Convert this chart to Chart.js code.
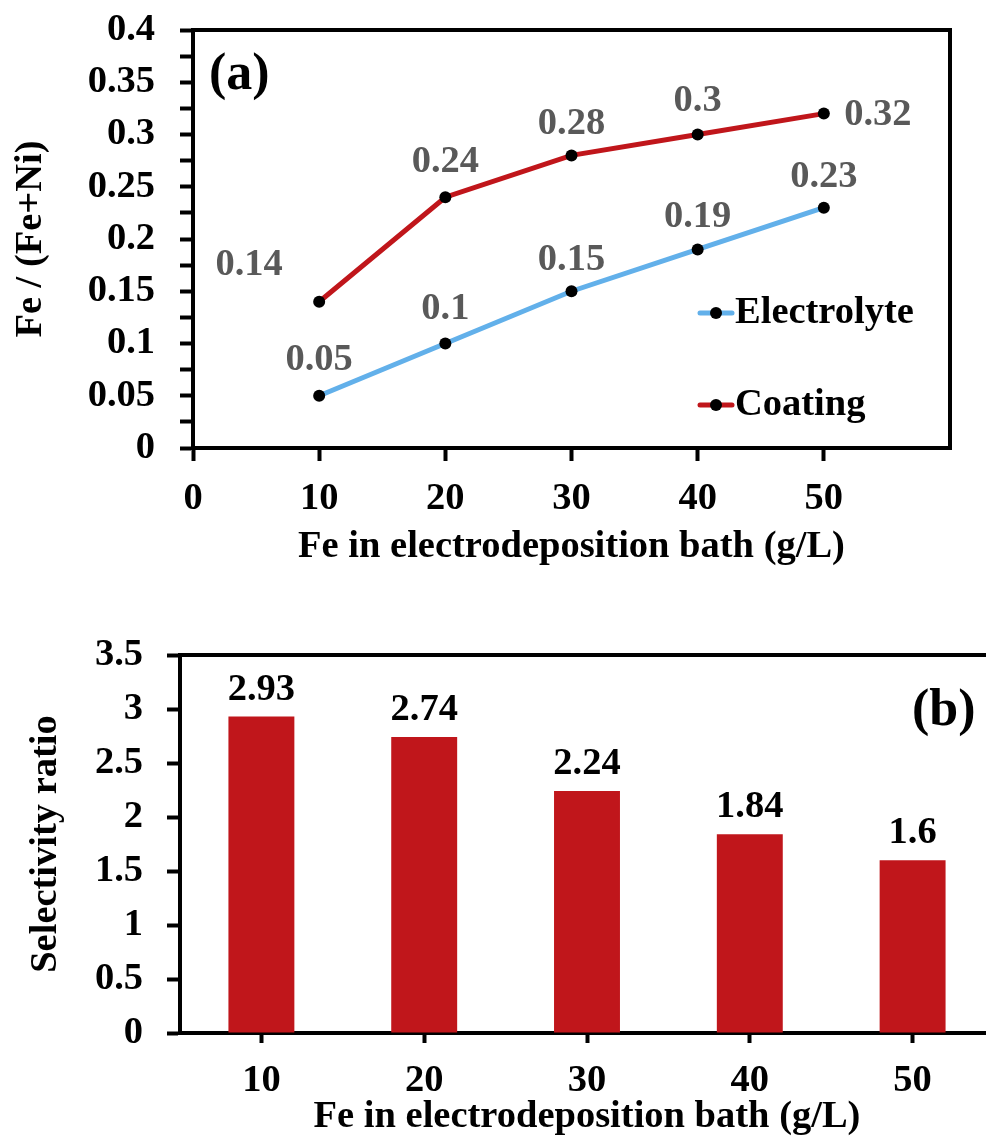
<!DOCTYPE html>
<html>
<head>
<meta charset="utf-8">
<script src="https://cdn.jsdelivr.net/npm/chart.js@4.4.1/dist/chart.umd.min.js"></script>
<style>
    html, body { margin: 0; padding: 0; background: #fff; overflow: hidden; }
    #wrap { position: relative; width: 986px; height: 1136px; overflow: hidden; }
    #chartA { position: absolute; left: 0; top: 0; }
    #chartB { position: absolute; left: 0; top: 600px; }
</style>
</head>
<body>
<div id="wrap">
    <canvas id="chartA" width="986" height="590"></canvas>
    <canvas id="chartB" width="1010" height="536"></canvas>
</div>
<script>
"use strict";

// datos
const bathFe = [10, 20, 30, 40, 50];
const bathLabels = ["10", "20", "30", "40", "50"];
const electrolyteRatio = [0.05, 0.1, 0.15, 0.19, 0.23];
const coatingRatio = [0.14, 0.24, 0.28, 0.3, 0.32];
const selectivity = [2.93, 2.74, 2.24, 1.84, 1.6];

// desplazamiento de las etiquetas de valor (px) respecto al punto
const electrolyteShift = [[0, -36], [0, -34], [0, -31], [0, -32], [0, -31]];
const coatingShift = [[-70, -37], [0, -35], [0, -31], [0, -33], [54, 1]];

const FONT = "'Liberation Serif', 'Times New Roman', serif";
const TXT = 38.5;
const BLUE = "#62B0EA";
const RED = "#C0161B";

Chart.defaults.font.family = FONT;
Chart.defaults.font.weight = "bold";
Chart.defaults.color = "#000";

function axisStyle(tickLength) {
    return {
        border: { display: true, color: "#000", width: 4 },
        grid: {
            drawOnChartArea: false,
            drawTicks: true,
            tickLength: tickLength,
            tickWidth: 4,
            tickColor: "#000",
        },
    };
}

// sin relleno extra: el area la fija layout.padding
function noPad(s) {
    s.paddingTop = 0;
    s.paddingBottom = 0;
    s.paddingLeft = 0;
    s.paddingRight = 0;
}

const boxPlugin = {
    id: "box",
    beforeDatasetsDraw(chart) {
        const { ctx, chartArea } = chart;
        ctx.save();
        ctx.strokeStyle = "#000";
        ctx.lineWidth = 4;
        ctx.strokeRect(chartArea.left, chartArea.top,
            chartArea.right - chartArea.left, chartArea.bottom - chartArea.top);
        ctx.restore();
    },
};

/**
 * Etiquetas, leyenda y letra del panel (a)
 */
const lineExtras = {
    id: "lineExtras",
    afterDatasetsDraw(chart) {
        const ctx = chart.ctx;
        const shifts = [electrolyteShift, coatingShift];
        ctx.save();
        ctx.font = "bold " + TXT + "px " + FONT;
        ctx.fillStyle = "#595959";
        ctx.textAlign = "center";
        ctx.textBaseline = "middle";
        chart.data.datasets.forEach((ds, d) => {
            const meta = chart.getDatasetMeta(d);
            meta.data.forEach((pt, i) => {
                const [dx, dy] = shifts[d][i];
                ctx.fillText(String(ds.data[i].y), pt.x + dx, pt.y + dy);
            });
        });

        // leyenda dentro del area
        const legendY = [313, 405];
        chart.data.datasets.forEach((ds, d) => {
            const x = 700;
            const y = legendY[d];
            ctx.strokeStyle = ds.borderColor;
            ctx.lineWidth = 5;
            ctx.lineCap = "round";
            ctx.beginPath();
            ctx.moveTo(x, y);
            ctx.lineTo(x + 32, y);
            ctx.stroke();
            ctx.fillStyle = "#000";
            ctx.beginPath();
            ctx.arc(x + 16, y, 6, 0, Math.PI * 2);
            ctx.fill();
            ctx.textAlign = "left";
            ctx.fillText(ds.label, x + 35, y);
        });

        ctx.font = "bold 52px " + FONT;
        ctx.textAlign = "left";
        ctx.fillText("(a)", 209, 76);
        ctx.restore();
    },
};

const barExtras = {
    id: "barExtras",
    afterDatasetsDraw(chart) {
        const ctx = chart.ctx;
        const meta = chart.getDatasetMeta(0);
        ctx.save();
        ctx.font = "bold " + TXT + "px " + FONT;
        ctx.fillStyle = "#000";
        ctx.textAlign = "center";
        ctx.textBaseline = "middle";
        meta.data.forEach((bar, i) => {
            ctx.fillText(String(selectivity[i]), bar.x, bar.y - 27);
        });
        ctx.font = "bold 52px " + FONT;
        ctx.textAlign = "left";
        ctx.fillText("(b)", 912, 112);
        ctx.restore();
    },
};

const pointsOf = (values) => values.map((v, i) => ({ x: bathFe[i], y: v }));

new Chart(document.querySelector("#chartA"), {
    type: "line",
    data: {
        datasets: [
            {
                label: "Electrolyte",
                data: pointsOf(electrolyteRatio),
                borderColor: BLUE,
                borderWidth: 5,
                pointRadius: 6,
                pointBackgroundColor: "#000",
                pointBorderWidth: 0,
            },
            {
                label: "Coating",
                data: pointsOf(coatingRatio),
                borderColor: RED,
                borderWidth: 5,
                pointRadius: 6,
                pointBackgroundColor: "#000",
                pointBorderWidth: 0,
            },
        ],
    },
    options: {
        responsive: false,
        animation: false,
        layout: { padding: { top: 30, right: 36, left: 0, bottom: 0 } },
        plugins: { legend: { display: false }, tooltip: { enabled: false } },
        scales: {
            x: {
                type: "linear",
                min: 0,
                max: 60,
                ...axisStyle(13),
                afterFit: (s) => { s.height = 142; noPad(s); },
                ticks: {
                    stepSize: 10,
                    padding: 15,
                    autoSkip: false,
                    maxRotation: 0,
                    font: { size: TXT, weight: "bold" },
                    callback: (v) => (v >= 60 ? null : String(v)),
                },
                title: {
                    display: true,
                    text: "Fe in electrodeposition bath (g/L)",
                    font: { size: TXT, weight: "bold", lineHeight: 1 },
                    padding: { top: 0, bottom: 24 },
                },
            },
            y: {
                min: 0,
                max: 0.4,
                ...axisStyle(13),
                afterFit: (s) => { s.width = 193; noPad(s); },
                ticks: {
                    stepSize: 0.025,
                    padding: 25,
                    autoSkip: false,
                    font: { size: TXT, weight: "bold" },
                    callback: (v, i) => (i % 2 ? "" : String(+v.toFixed(3))),
                },
                title: {
                    display: true,
                    text: "Fe / (Fe+Ni)",
                    font: { size: TXT, weight: "bold", lineHeight: 1 },
                    padding: { top: 12, bottom: 0 },
                },
            },
        },
    },
    plugins: [boxPlugin, lineExtras],
});

new Chart(document.querySelector("#chartB"), {
    type: "bar",
    data: {
        labels: bathLabels,
        datasets: [
            {
                label: "Selectivity ratio",
                data: selectivity,
                backgroundColor: RED,
                borderWidth: 0,
                barPercentage: 0.405,
                categoryPercentage: 1,
            },
        ],
    },
    options: {
        responsive: false,
        animation: false,
        layout: { padding: { top: 55, right: 16, left: 0, bottom: 0 } },
        plugins: { legend: { display: false }, tooltip: { enabled: false } },
        scales: {
            x: {
                offset: true,
                border: { display: true, color: "#000", width: 4 },
                grid: {
                    offset: false,
                    drawOnChartArea: false,
                    drawTicks: true,
                    tickLength: 10,
                    tickWidth: 4,
                    tickColor: "#000",
                },
                afterFit: (s) => { s.height = 103; noPad(s); },
                ticks: {
                    padding: 15,
                    autoSkip: false,
                    maxRotation: 0,
                    font: { size: TXT, weight: "bold" },
                },
                title: {
                    display: true,
                    text: "Fe in electrodeposition bath (g/L)",
                    font: { size: TXT, weight: "bold", lineHeight: 1 },
                    padding: { top: 0, bottom: 0 },
                },
            },
            y: {
                min: 0,
                max: 3.5,
                ...axisStyle(13),
                afterFit: (s) => { s.width = 180; noPad(s); },
                ticks: {
                    stepSize: 0.5,
                    padding: 24,
                    autoSkip: false,
                    font: { size: TXT, weight: "bold" },
                    callback: (v) => String(+v.toFixed(2)),
                },
                title: {
                    display: true,
                    text: "Selectivity ratio",
                    font: { size: TXT, weight: "bold", lineHeight: 1 },
                    padding: { top: 27, bottom: 0 },
                },
            },
        },
    },
    plugins: [boxPlugin, barExtras],
});
</script>
</body>
</html>
